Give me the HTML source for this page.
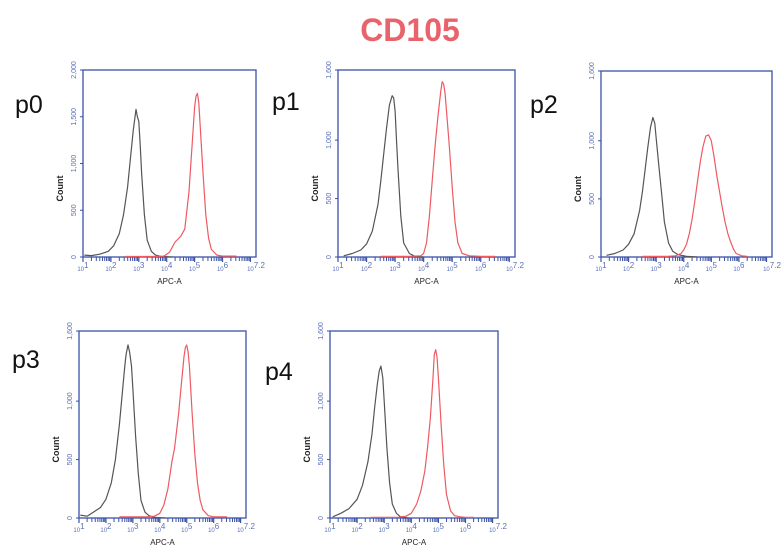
<!DOCTYPE html>
<html><head><meta charset="utf-8"><style>
html,body{margin:0;padding:0;background:#fff;width:781px;height:558px;overflow:hidden;font-family:"Liberation Sans",sans-serif}
</style></head><body>
<svg id="fig" width="781" height="558" xmlns="http://www.w3.org/2000/svg">
<text x="410" y="41" text-anchor="middle" font-family="Liberation Sans, sans-serif" font-weight="bold" font-size="32" fill="#e8636b">CD105</text>
</svg>
<script>
// Per-panel data: x as log10(APC-A), y as count
const panelNames = ["p0","p1","p2","p3","p4"];
const yMaxes = [2000,1600,1600,1600,1600];
const yTicks0 = [0,500,1000,1500,2000];
const yTickLabels0 = ["0","500","1,000","1,500","2,000"];
const yTicks1 = [0,500,1000,1600];
const yTickLabels1 = ["0","500","1,000","1,600"];
const xTickDecades = [1,2,3,4,5,6,7.2];
const xTickSup = ["1","2","3","4","5","6","7.2"];

const grayX0 = [1.05,1.3,1.6,1.9,2.1,2.3,2.45,2.6,2.7,2.8,2.9,2.95,3.0,3.05,3.1,3.2,3.3,3.45,3.6,3.8,4.2];
const grayY0 = [20,15,30,60,120,250,450,750,1050,1350,1580,1500,1450,1200,900,450,180,60,20,5,0];
const redX0 = [2.5,3.5,3.9,4.1,4.3,4.5,4.65,4.8,4.9,5.0,5.05,5.1,5.15,5.2,5.3,5.4,5.5,5.6,5.8,6.0,6.5];
const redY0 = [5,5,10,50,160,220,300,700,1150,1600,1720,1750,1650,1400,900,450,200,80,20,10,10];

const grayX1 = [1.2,1.5,1.8,2.0,2.2,2.4,2.5,2.6,2.7,2.8,2.9,2.95,3.0,3.05,3.1,3.2,3.3,3.5,3.7,4.0];
const grayY1 = [10,30,60,110,220,450,650,880,1100,1300,1380,1360,1250,1000,750,350,120,30,5,0];
const redX1 = [2.5,3.5,3.9,4.0,4.1,4.2,4.3,4.4,4.5,4.6,4.65,4.7,4.75,4.8,4.9,5.0,5.1,5.2,5.35,5.6,6.0,6.5];
const redY1 = [5,5,10,30,120,350,650,950,1200,1420,1500,1480,1400,1250,950,600,300,120,30,10,5,5];

const grayX2 = [1.2,1.5,1.8,2.0,2.2,2.4,2.5,2.6,2.7,2.8,2.88,2.95,3.0,3.1,3.2,3.3,3.45,3.6,3.8,4.1,4.5];
const grayY2 = [15,30,60,110,200,400,560,750,950,1120,1200,1150,1020,780,540,300,120,50,20,5,0];
const redX2 = [2.5,3.4,3.7,3.9,4.0,4.1,4.2,4.3,4.4,4.5,4.6,4.7,4.8,4.9,5.0,5.1,5.2,5.3,5.4,5.5,5.6,5.7,5.8,5.9,6.1,6.3];
const redY2 = [5,5,10,30,60,110,200,320,480,650,820,950,1040,1050,1000,860,700,560,420,300,200,130,70,30,10,5];

const grayX3 = [1.05,1.3,1.6,1.8,2.0,2.2,2.35,2.5,2.6,2.7,2.75,2.82,2.88,2.95,3.0,3.1,3.2,3.3,3.45,3.6,3.8,4.2];
const grayY3 = [25,15,60,90,160,300,500,800,1050,1300,1400,1480,1420,1300,1100,700,380,150,50,20,5,0];
const redX3 = [2.5,3.5,3.8,4.0,4.15,4.3,4.45,4.55,4.7,4.8,4.9,4.95,5.0,5.05,5.1,5.2,5.3,5.4,5.5,5.6,5.8,6.0,6.5];
const redY3 = [10,10,15,40,110,250,480,600,900,1150,1380,1460,1480,1420,1300,900,550,300,150,70,20,10,10];

const grayX4 = [1.1,1.4,1.7,2.0,2.2,2.4,2.55,2.65,2.75,2.82,2.88,2.95,3.0,3.1,3.2,3.3,3.45,3.6,3.9];
const grayY4 = [10,40,80,160,280,480,720,950,1150,1260,1300,1200,1000,600,300,120,40,10,0];
const redX4 = [2.5,3.5,3.8,4.0,4.2,4.35,4.5,4.6,4.7,4.8,4.85,4.9,4.95,5.0,5.1,5.2,5.3,5.45,5.6,5.8,6.0,6.3];
const redY4 = [5,5,15,40,120,230,400,600,850,1200,1400,1440,1380,1200,800,450,200,60,20,10,5,5];

const grayXs=[grayX0,grayX1,grayX2,grayX3,grayX4], grayYs=[grayY0,grayY1,grayY2,grayY3,grayY4];
const redXs=[redX0,redX1,redX2,redX3,redX4], redYs=[redY0,redY1,redY2,redY3,redY4];

// layout (pixel geometry, not data)
const boxes=[[83,70,256,257],[338,70,515,257],[601,71,772,257],[79,331,246,518],[330,331,498,518]];
const labelPos=[[15,113],[272,110],[530,113],[12,368],[265,380]];

const NS="http://www.w3.org/2000/svg";
const svg=document.getElementById("fig");
const BLUE="#3a52a8";
function mk(tag,attrs,parent){const e=document.createElementNS(NS,tag);for(const k in attrs)e.setAttribute(k,attrs[k]);(parent||svg).appendChild(e);return e;}

panelNames.forEach((nm,i)=>{
  const [L,T,R,B]=boxes[i];
  const g=mk("g",{});
  
  
  const xs=v=>L+(v-1)/(7.2-1)*(R-L);
  const ys=v=>B-v/yMaxes[i]*(B-T);
  const pl=mk("text",{x:labelPos[i][0],y:labelPos[i][1],"font-size":"25",fill:"#111","font-family":"Liberation Sans, sans-serif"},g);
  pl.textContent=nm;
  
  
  const box=mk("rect",{x:L,y:T,width:R-L,height:B-T,fill:"none",stroke:BLUE,"stroke-width":"1.3"},g);
  
  
  // y ticks
  const yt=i===0?yTicks0:yTicks1, ytl=i===0?yTickLabels0:yTickLabels1;
  yt.forEach((v,j)=>{
    const y=ys(v);
    mk("line",{x1:L-3,x2:L,y1:y,y2:y,stroke:BLUE,"stroke-width":"1"},g);
    const t=mk("text",{x:L-7,y:y,"font-size":"7",fill:"#5a6fb8","text-anchor":"middle",transform:`rotate(-90 ${L-7} ${y})`,"font-family":"Liberation Sans, sans-serif"},g);
    t.textContent=ytl[j];
    
    
  });
  const yl=mk("text",{x:L-20,y:(T+B)/2+25,"font-size":"9","font-weight":"bold",fill:"#222","text-anchor":"middle",transform:`rotate(-90 ${L-20} ${(T+B)/2+25})`,"font-family":"Liberation Sans, sans-serif"},g);
  yl.textContent="Count";
  
  
  // x minor ticks (rug-like)
  for(let d=1;d<7.2;d++){for(let k=1;k<10;k++){const v=d+Math.log10(k);if(v>7.2)break;
    const x=xs(v);mk("line",{x1:x,x2:x,y1:B,y2:B+(k===1?5:4),stroke:BLUE,"stroke-width":k===1?"1.2":"1"},g);}}
  xTickDecades.forEach((v,j)=>{
    const x=xs(v);
    const t=mk("text",{x:x,y:B+14,"font-size":"6",fill:"#5a6fb8","text-anchor":"middle","font-family":"Liberation Sans, sans-serif"},g);
    t.textContent="10";
    const s=mk("tspan",{dy:"-3","font-size":"8"},t);s.textContent=xTickSup[j];
    
    
  });
  const xl=mk("text",{x:(L+R)/2,y:B+27,"font-size":"8",fill:"#222","text-anchor":"middle","font-family":"Liberation Sans, sans-serif"},g);
  xl.textContent="APC-A";
  
  
  // curves
  const path=(X,Y)=>X.map((v,j)=>(j?"L":"M")+xs(v).toFixed(1)+","+ys(Y[j]).toFixed(1)).join("");
  const gp=mk("path",{d:path(grayXs[i],grayYs[i]),fill:"none",stroke:"#555","stroke-width":"1.2","stroke-linejoin":"round"},g);
  
  
  const rp=mk("path",{d:path(redXs[i],redYs[i]),fill:"none",stroke:"#ee5a62","stroke-width":"1.2","stroke-linejoin":"round"},g);
  
  
});
</script>
</body></html>
